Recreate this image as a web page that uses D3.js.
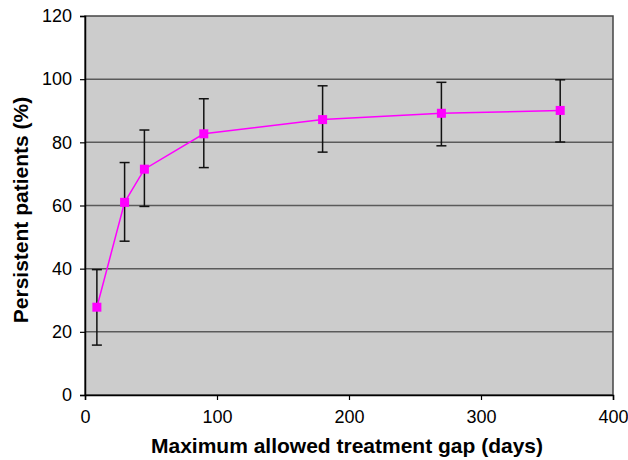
<!DOCTYPE html>
<html>
<head>
<meta charset="utf-8">
<script src="https://cdn.jsdelivr.net/npm/d3@7"></script>
<style>
  body { margin: 0; background: #fff; }
  svg text { font-family: "Liberation Sans", Arial, sans-serif; }
</style>
</head>
<body>
<svg id="chart" width="628" height="460"></svg>
<script>
// data
const gapDays = [9, 30, 45, 90, 180, 270, 360]
const persistent = [27.8, 61, 71.5, 82.7, 87.2, 89.2, 90.1]
const errUpper = [39.7, 73.6, 83.9, 93.8, 97.9, 99.0, 99.8]
const errLower = [15.8, 48.7, 59.7, 72.0, 76.9, 78.9, 80.1]
const xTicks = [0, 100, 200, 300, 400]
const yTicks = [0, 20, 40, 60, 80, 100, 120]

const data = gapDays.map((d, i) => ({gap: d, value: persistent[i], hi: errUpper[i], lo: errLower[i]}))

const svg = d3.select("#chart")
const margin = {top: 16, right: 15, bottom: 65, left: 85}
const width = 628 - margin.left - margin.right, height = 460 - margin.top - margin.bottom

const g = svg.append("g").attr("transform", `translate(${margin.left}, ${margin.top})`)

const x = d3.scaleLinear().domain([0, 400]).range([0, width])
const y = d3.scaleLinear().domain([0, 120]).range([height, 0])

//plot background
g.append("rect")
    .attr("width", width)
    .attr("height", height)
    .attr("fill", "#cccccc")

//grid lines
g.selectAll(".grid")
    .data(yTicks.slice(1, -1))
    .enter().append("line")
    .attr("class", "grid")
    .attr("x1", 0).attr("x2", width)
    .attr("y1", d => y(d)).attr("y2", d => y(d))
    .attr("stroke", "#5a5a5a")
    .attr("stroke-width", 1.5)

//border
g.append("rect")
    .attr("width", width)
    .attr("height", height)
    .attr("fill", "none")
    .attr("stroke", "#444")
    .attr("stroke-width", 1.5)

//axes
const xAxis = g.append("g")
    .attr("transform", `translate(0, ${height})`)
    .call(d3.axisBottom(x).tickValues(xTicks).tickSize(5).tickPadding(10))
const yAxis = g.append("g")
    .call(d3.axisLeft(y).tickValues(yTicks).tickSize(5).tickPadding(8))

;[xAxis, yAxis].forEach(a => {
    a.select(".domain").attr("stroke", "#000").attr("stroke-width", 1.5)
    a.selectAll(".tick line").attr("stroke", "#000").attr("stroke-width", 1.2)
    a.selectAll(".tick text")
        .attr("fill", "#000")
        .style("font-size", "18px")
        .style("font-family", "Liberation Sans, Arial, sans-serif")
})

//error bars
const bars = g.selectAll(".err")
    .data(data)
    .enter().append("g")
    .attr("class", "err")
bars.append("line")
    .attr("x1", d => x(d.gap)).attr("x2", d => x(d.gap))
    .attr("y1", d => y(d.hi)).attr("y2", d => y(d.lo))
    .attr("stroke", "#111").attr("stroke-width", 1.5)
bars.selectAll(".cap")
    .data(d => [{gap: d.gap, v: d.hi}, {gap: d.gap, v: d.lo}])
    .enter().append("line")
    .attr("class", "cap")
    .attr("x1", d => x(d.gap) - 5).attr("x2", d => x(d.gap) + 5)
    .attr("y1", d => y(d.v)).attr("y2", d => y(d.v))
    .attr("stroke", "#111").attr("stroke-width", 1.5)

//line
const line = d3.line().x(d => x(d.gap)).y(d => y(d.value))
g.append("path")
    .datum(data)
    .attr("d", line)
    .attr("fill", "none")
    .attr("stroke", "#ff00ff")
    .attr("stroke-width", 1.5)

//markers
const size = 9
g.selectAll(".marker")
    .data(data)
    .enter().append("rect")
    .attr("class", "marker")
    .attr("x", d => x(d.gap) - size / 2)
    .attr("y", d => y(d.value) - size / 2)
    .attr("width", size).attr("height", size)
    .attr("fill", "#ff00ff")

//axis titles
svg.append("text")
    .attr("x", 347)
    .attr("y", 453)
    .attr("text-anchor", "middle")
    .style("font-size", "21px")
    .style("font-weight", "bold")
    .text("Maximum allowed treatment gap (days)")

svg.append("text")
    .attr("transform", `translate(28, 210) rotate(-90)`)
    .attr("text-anchor", "middle")
    .style("font-size", "21px")
    .style("font-weight", "bold")
    .text("Persistent patients (%)")
</script>
</body>
</html>
